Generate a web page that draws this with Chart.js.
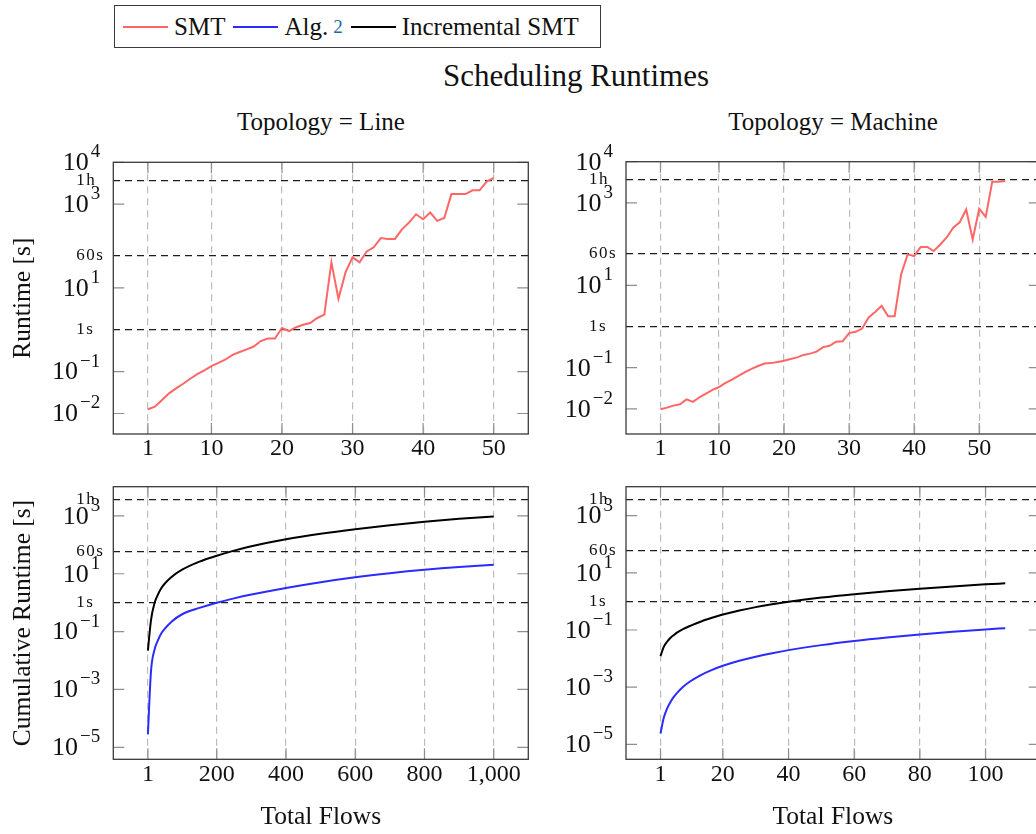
<!DOCTYPE html>
<html>
<head>
<meta charset="utf-8">
<title>Scheduling Runtimes</title>
<script src="https://cdn.jsdelivr.net/npm/chart.js@4.4.1/dist/chart.umd.min.js"></script>
<style>
  html, body { margin: 0; padding: 0; background: #fff; overflow: hidden; }
  #page { position: relative; width: 1036px; height: 834px; overflow: hidden;
          font-family: "Liberation Serif", "DejaVu Serif", serif; color: #111; }
  canvas { position: absolute; }
  #legend { position: absolute; left: 114px; top: 5px; width: 487px; height: 43px; box-sizing: border-box;
            border: 1.3px solid #3a3a3a; display: flex; align-items: center; padding-left: 8px; font-size: 25px; }
  #legend .sw { display: inline-block; width: 45px; height: 0; border-top: 2px solid; margin-right: 6px; }
  #legend .item { display: flex; align-items: center; margin-right: 8px; white-space: nowrap; }
  #legend .ref { color: #1b6aa8; font-size: 19px; margin-left: 5px; }
  #title { position: absolute; left: 376px; width: 400px; top: 58px; line-height: 36px; text-align: center; font-size: 31px; }
  .sub { position: absolute; width: 400px; top: 107px; line-height: 30px; text-align: center; font-size: 25px; }
</style>
</head>
<body>
<div id="page">
  <div id="legend">
    <span class="item"><span class="sw" style="border-color:#ff6666"></span>SMT</span>
    <span class="item"><span class="sw" style="border-color:#2b2bff"></span>Alg.<span class="ref">2</span></span>
    <span class="item"><span class="sw" style="border-color:#000"></span>Incremental SMT</span>
  </div>
  <div id="title">Scheduling Runtimes</div>
  <div class="sub" style="left:121px">Topology = Line</div>
  <div class="sub" style="left:633px">Topology = Machine</div>

  <canvas id="lineRuntime" width="540" height="330" style="left:0;top:140px"></canvas>
  <canvas id="machineRuntime" width="520" height="330" style="left:540px;top:140px"></canvas>
  <canvas id="lineCumulative" width="540" height="364" style="left:0;top:470px"></canvas>
  <canvas id="machineCumulative" width="520" height="364" style="left:540px;top:470px"></canvas>
</div>
<script>
// runtime of a single SMT scheduling run per number of flows [s]
const lineFlows = [1, 2, 3, 4, 5, 6, 7, 8, 9, 10, 11, 12, 13, 14, 15, 16, 17, 18, 19, 20,
  21, 22, 23, 24, 25, 26, 27, 28, 29, 30, 31, 32, 33, 34, 35, 36, 37, 38, 39, 40,
  41, 42, 43, 44, 45, 46, 47, 48, 49, 50];
const lineSmt = [0.0126, 0.0145, 0.0209, 0.0302, 0.0398, 0.0513, 0.0676, 0.0871, 0.107, 0.135,
  0.162, 0.195, 0.251, 0.295, 0.339, 0.398, 0.537, 0.617, 0.617, 1.10,
  0.933, 1.15, 1.32, 1.45, 1.91, 2.29, 40.7, 5.50, 23.4, 53.7,
  40.7, 74.1, 93.3, 155, 148, 148, 251, 363, 575, 437,
  631, 398, 468, 1740, 1740, 1740, 2140, 2140, 3470, 4270];

const machineFlows = [1, 2, 3, 4, 5, 6, 7, 8, 9, 10, 11, 12, 13, 14, 15, 16, 17, 18, 19, 20,
  21, 22, 23, 24, 25, 26, 27, 28, 29, 30, 31, 32, 33, 34, 35, 36, 37, 38, 39, 40,
  41, 42, 43, 44, 45, 46, 47, 48, 49, 50, 51, 52, 53, 54];
const machineSmt = [0.0098, 0.0107, 0.0120, 0.0129, 0.0170, 0.0148, 0.0191, 0.0234, 0.0288, 0.0339,
  0.0427, 0.0513, 0.0631, 0.0776, 0.0933, 0.110, 0.126, 0.129, 0.138, 0.148,
  0.162, 0.178, 0.204, 0.219, 0.245, 0.316, 0.339, 0.427, 0.437, 0.692,
  0.741, 0.891, 1.66, 2.24, 3.16, 1.78, 1.78, 18.6, 56.2, 51.3,
  85.1, 85.1, 67.6, 97.7, 145, 251, 339, 692, 129, 724,
  457, 3240, 3240, 3390];

// cumulative runtime over all flows scheduled so far [s]
const lineCumFlows = [1, 10, 20, 30, 40, 50, 70, 100, 150, 200, 250, 300, 400, 500, 600, 700, 800, 900, 1000];
const lineCumAlg = [2.8e-5, 0.0043, 0.0234, 0.050, 0.087, 0.126, 0.224, 0.398, 0.66, 1.0,
  1.41, 1.91, 3.24, 5.13, 7.59, 10.5, 13.8, 17.2, 20.4];
const lineCumInc = [0.022, 0.25, 0.95, 1.9, 3.2, 4.6, 7.9, 13.8, 26.3, 41.7,
  63, 89, 155, 240, 347, 479, 631, 794, 955];

const machineCumFlows = [1, 2, 3, 4, 5, 6, 8, 10, 13, 16, 20, 25, 30, 35, 40, 50, 60, 70, 80, 90, 100, 106];
const machineCumAlg = [2.4e-5, 8.5e-5, 1.77e-4, 2.99e-4, 4.49e-4, 6.25e-4, 1.06e-3, 1.58e-3, 2.55e-3, 3.73e-3,
  5.6e-3, 8.4e-3, 0.0117, 0.0155, 0.0198, 0.0296, 0.0413, 0.0547, 0.0698, 0.0865, 0.105, 0.116];
const machineCumInc = [0.0123, 0.0257, 0.0389, 0.0525, 0.0661, 0.0813, 0.110, 0.138, 0.191, 0.251,
  0.347, 0.479, 0.631, 0.794, 0.970, 1.36, 1.79, 2.27, 2.79, 3.35, 3.94, 4.31];

// axis ticks
const runtimeTicks = [1e-2, 1e-1, 1e1, 1e3, 1e4];
const cumulativeTicks = [1e-5, 1e-3, 1e-1, 1e1, 1e3];
const markerValues = [1, 60, 3600];
const markerLabels = ['1s', '60s', '1h'];
const flowTicks = [1, 10, 20, 30, 40, 50];
const lineCumTicks = [1, 200, 400, 600, 800, 1000];
const machineCumTicks = [1, 20, 40, 60, 80, 100];

const COLORS = { smt: '#ff6666', alg: '#2b2bff', inc: '#000000' };
const SERIF = '"Liberation Serif", "DejaVu Serif", serif';
const TICK = 11;

function points(xs, ys) {
  return xs.map((x, i) => ({ x: x, y: ys[i] }));
}

// pgfplots-like box: inner tick marks on all four sides, powers of ten and time markers on the left
const frame = {
  id: 'frame',
  afterDatasetsDraw(chart, args, opts) {
    const { ctx, chartArea: a, scales: { x, y } } = chart;
    ctx.save();
    ctx.strokeStyle = '#8f8f8f';
    ctx.lineWidth = 1.2;
    ctx.beginPath();
    x.ticks.forEach(t => {
      const px = x.getPixelForValue(t.value);
      ctx.moveTo(px, a.top); ctx.lineTo(px, a.top + TICK);
      ctx.moveTo(px, a.bottom); ctx.lineTo(px, a.bottom - TICK);
    });
    opts.powers.forEach(v => {
      const py = y.getPixelForValue(v);
      ctx.moveTo(a.left, py); ctx.lineTo(a.left + TICK, py);
      ctx.moveTo(a.right, py); ctx.lineTo(a.right - TICK, py);
    });
    ctx.stroke();
    ctx.strokeStyle = '#3a3a3a';
    ctx.lineWidth = 1.3;
    ctx.strokeRect(a.left, a.top, a.right - a.left, a.bottom - a.top);
    ctx.restore();
  },
  afterDraw(chart, args, opts) {
    const { ctx, chartArea: a, scales: { y } } = chart;
    ctx.save();
    ctx.fillStyle = '#111';
    ctx.textBaseline = 'middle';
    ctx.textAlign = 'left';
    const right = a.left - 13;
    opts.powers.forEach(v => {
      const py = y.getPixelForValue(v);
      const e = Math.round(Math.log10(v));
      const exp = e < 0 ? '\u2212' + (-e) : String(e);
      ctx.font = '19px ' + SERIF;
      const ew = ctx.measureText(exp).width;
      ctx.fillText(exp, right - ew, py - 10);
      ctx.font = '26px ' + SERIF;
      const bw = ctx.measureText('10').width;
      ctx.fillText('10', right - ew - bw - 2, py + 1);
    });
    ctx.font = '17px ' + SERIF;
    ctx.letterSpacing = '1.5px';
    markerValues.forEach((v, i) => {
      ctx.fillText(markerLabels[i], a.left - 37, y.getPixelForValue(v));
    });
    ctx.restore();
  }
};

function panel(id, cfg) {
  return new Chart(document.getElementById(id), {
    type: 'line',
    data: {
      datasets: cfg.series.map(s => ({
        label: s.label,
        data: points(s.x, s.y),
        borderColor: s.color,
        borderWidth: 2,
        pointRadius: 0,
        fill: false,
        tension: 0,
        cubicInterpolationMode: s.smooth ? 'monotone' : 'default'
      }))
    },
    options: {
      responsive: false,
      animation: false,
      devicePixelRatio: 1,
      layout: { padding: { top: cfg.top, right: cfg.right, bottom: 0, left: 0 } },
      plugins: {
        legend: { display: false },
        tooltip: { enabled: false },
        frame: { powers: cfg.yTicks }
      },
      scales: {
        x: {
          type: 'linear',
          bounds: 'data',
          min: cfg.xMin,
          max: cfg.xMax,
          afterBuildTicks: s => { s.ticks = cfg.xTicks.map(v => ({ value: v })); },
          afterFit: s => { s.height = cfg.xHeight; },
          ticks: {
            autoSkip: false, maxRotation: 0, padding: 3, color: '#111',
            font: { family: SERIF, size: 24, lineHeight: 1 },
            callback: v => v.toLocaleString('en-US')
          },
          grid: { color: '#bcbcbc', lineWidth: 1.2, drawTicks: false },
          border: { display: false, dash: [7, 5] },
          title: {
            display: !!cfg.xTitle, text: cfg.xTitle || '', color: '#111',
            font: { family: SERIF, size: 25.5, lineHeight: 1.2 }, padding: { top: 0, bottom: 1 }
          }
        },
        y: {
          type: 'logarithmic',
          bounds: 'data',
          min: cfg.yMin,
          max: cfg.yMax,
          afterBuildTicks: s => { s.ticks = cfg.yTicks.concat(markerValues).map(v => ({ value: v })); },
          afterFit: s => { s.width = cfg.yWidth; },
          ticks: { display: false },
          grid: {
            color: c => (c.tick && markerValues.includes(c.tick.value)) ? '#1e1e1e' : 'rgba(0,0,0,0)',
            lineWidth: 1.2,
            drawTicks: false
          },
          border: { display: false, dash: [7, 5] },
          title: {
            display: !!cfg.yTitle, text: cfg.yTitle || '', color: '#111',
            font: { family: SERIF, size: 25.5, lineHeight: 1.2 }, padding: { top: 8, bottom: 0 }
          }
        }
      }
    },
    plugins: [frame]
  });
}

panel('lineRuntime', {
  top: 22.3, right: 11.7, yWidth: 113.3, xHeight: 36,
  xMin: -3.9, xMax: 54.9, xTicks: flowTicks,
  yMin: Math.pow(10, -2.49), yMax: 1e4, yTicks: runtimeTicks,
  yTitle: 'Runtime [s]',
  series: [{ label: 'SMT', x: lineFlows, y: lineSmt, color: COLORS.smt }]
});

panel('machineRuntime', {
  top: 21.7, right: 20.3, yWidth: 86, xHeight: 36,
  xMin: -4.3, xMax: 59.3, xTicks: flowTicks,
  yMin: Math.pow(10, -2.61), yMax: 1e4, yTicks: runtimeTicks,
  series: [{ label: 'SMT', x: machineFlows, y: machineSmt, color: COLORS.smt }]
});

panel('lineCumulative', {
  top: 16.7, right: 11.7, yWidth: 113.3, xHeight: 74.7,
  xMin: -98.9, xMax: 1099.9, xTicks: lineCumTicks,
  yMin: Math.pow(10, -5.415), yMax: Math.pow(10, 4.01), yTicks: cumulativeTicks,
  yTitle: 'Cumulative Runtime [s]', xTitle: 'Total Flows',
  series: [
    { label: 'Alg. 2', x: lineCumFlows, y: lineCumAlg, color: COLORS.alg, smooth: true },
    { label: 'Incremental SMT', x: lineCumFlows, y: lineCumInc, color: COLORS.inc, smooth: true }
  ]
});

panel('machineCumulative', {
  top: 16.7, right: 20.3, yWidth: 86, xHeight: 74.7,
  xMin: -9.5, xMax: 116.5, xTicks: machineCumTicks,
  yMin: Math.pow(10, -5.52), yMax: Math.pow(10, 4.01), yTicks: cumulativeTicks,
  xTitle: 'Total Flows',
  series: [
    { label: 'Alg. 2', x: machineCumFlows, y: machineCumAlg, color: COLORS.alg, smooth: true },
    { label: 'Incremental SMT', x: machineCumFlows, y: machineCumInc, color: COLORS.inc, smooth: true }
  ]
});
</script>
</body>
</html>
